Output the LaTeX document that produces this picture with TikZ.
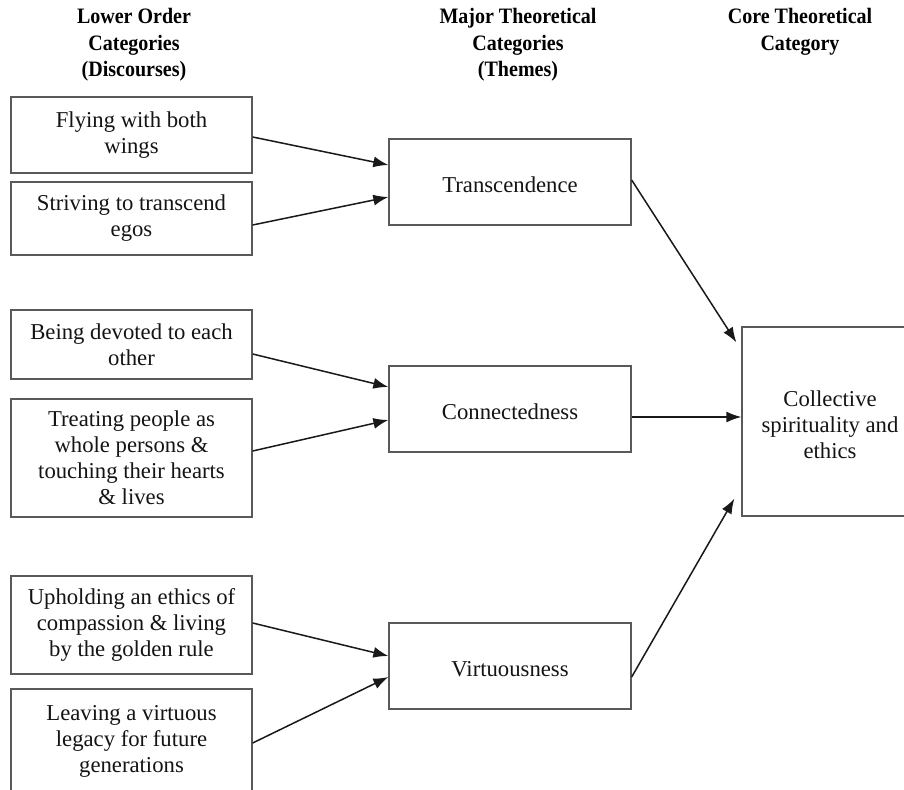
\documentclass[tikz,border=0pt]{standalone}
\usepackage{fontspec}
\setmainfont{Liberation Serif}
\newfontfamily\hdrfont[FakeStretch=0.91]{Liberation Serif}
\usetikzlibrary{arrows.meta}
\newcommand{\lowtext}[2]{\raisebox{-#1}[\height][\depth]{\begin{tabular}{@{}c@{}}#2\end{tabular}}}
\begin{document}
\begin{tikzpicture}[x=1pt,y=-1pt,
  every node/.style={font=\fontsize{22.7}{26}\selectfont, text=black!92, align=center, inner sep=0pt},
  box/.style={draw=black!65, line width=1.3pt, rectangle},
  lbox/.style={box, minimum width=241pt},
  mbox/.style={box, minimum width=242pt},
  hdr/.style={font=\fontsize{22}{26.5}\selectfont\hdrfont\bfseries, text=black},
  arr/.style={line width=1.5pt, draw=black!90, -{Latex[length=15pt,width=11pt]}}]
\clip (0,0) rectangle (904,789);
\fill[white] (0,0) rectangle (904,789);
% headers
\node[hdr] (h1) at (134,45) {Lower Order\\Categories\\(Discourses)};
\node[hdr] (h2) at (518,45) {Major Theoretical\\Categories\\(Themes)};
\node[hdr] (h3) at (800,32) {Core Theoretical\\Category};
% left boxes
\node[lbox, minimum height=76pt] (L1) at (131.5,135) {Flying with both\\wings};
\node[lbox, minimum height=73pt] (L2) at (131.5,218.5) {Striving to transcend\\egos};
\node[lbox, minimum height=69pt] (L3) at (131.5,344.5) {Being devoted to each\\other};
\node[lbox, minimum height=118pt] (L4) at (131.5,458) {Treating people as\\whole persons \&\\touching their hearts\\\& lives};
\node[lbox, minimum height=98pt] (L5) at (131.5,625) {Upholding an ethics of\\compassion \& living\\by the golden rule};
\node[lbox, minimum height=104pt] (L6) at (131.5,741) {Leaving a virtuous\\legacy for future\\generations};
% middle boxes
\node[mbox, minimum height=86pt] (M1) at (510,182) {\lowtext{5pt}{Transcendence}};
\node[mbox, minimum height=86pt] (M2) at (510,409) {\lowtext{5pt}{Connectedness}};
\node[mbox, minimum height=86pt] (M3) at (510,666) {\lowtext{5pt}{Virtuousness}};
% right box
\node[box, minimum width=176pt, minimum height=189pt] (R) at (830,421.5) {\lowtext{6pt}{Collective\\spirituality and\\ethics}};
% arrows
\draw[arr] ([yshift=-2pt]L1.east) -- ([yshift=17pt]M1.west);
\draw[arr] ([yshift=-6.5pt]L2.east) -- ([yshift=-15pt]M1.west);
\draw[arr] ([yshift=-9.5pt]L3.east) -- ([yshift=22pt]M2.west);
\draw[arr] ([yshift=7pt]L4.east) -- ([yshift=-11pt]M2.west);
\draw[arr] ([yshift=2pt]L5.east) -- ([yshift=10pt]M3.west);
\draw[arr] ([yshift=-2pt]L6.east) -- ([yshift=-11pt]M3.west);
\draw[arr] ([yshift=2pt]M1.east) -- ([xshift=-5pt,yshift=-16pt]R.north west);
\draw[arr] ([yshift=-8pt]M2.east) -- ([yshift=4.5pt]R.west);
\draw[arr] ([yshift=-11pt]M3.east) -- ([xshift=-7pt,yshift=18pt]R.south west);
\end{tikzpicture}
\end{document}
